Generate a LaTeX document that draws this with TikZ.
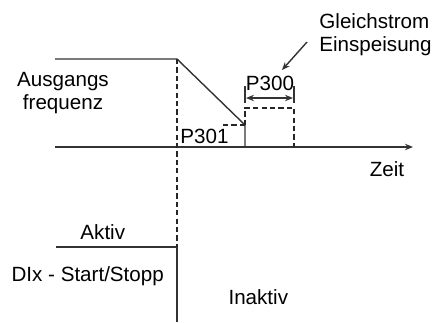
\documentclass[tikz,border=0pt]{standalone}
\usepackage{fontspec}
\setmainfont{Liberation Sans}
\usetikzlibrary{arrows.meta, positioning}

\begin{document}
\begin{tikzpicture}[x=0.5pt, y=-0.5pt, >={Stealth[length=4pt, width=3.2pt]},
    signal/.style={draw=black!80, line width=0.7pt},
    guide/.style={draw=black!85, line width=0.7pt, dash pattern=on 2.6pt off 1.6pt},
    lbl/.style={font=\fontsize{10.3}{11.6}\selectfont, inner sep=0pt, anchor=base}]
  \useasboundingbox (0,0) rectangle (433,322);

  % time axis and output frequency
  \coordinate (t0) at (55,147);
  \coordinate (tend) at (413,147);
  \coordinate (f0) at (55,59);
  \coordinate (fstop) at (177,59);
  \coordinate (fdc) at (245,125);
  \coordinate (fdcend) at (245,147);
  \coordinate (dcend) at (294,147);

  \draw[signal, ->] (t0) -- (tend);
  \draw[signal] (f0) -- (fstop) -- (fdc) -- (fdcend);

  % stop command
  \coordinate (di0) at (56,247);
  \coordinate (distop) at (177,247);
  \coordinate (diend) at (177,322);
  \draw[signal] (di0) -- (distop) -- (diend);
  \draw[guide] (fstop) -- (distop);

  % P301 frequency and P300 time of dc injection
  \draw[guide] (fdc) -- ++(-22,0);
  \draw[guide] (245,125) -- (245,108) -- (294,108) -- (dcend);
  \draw[signal] (245,86) -- (245,103);
  \draw[signal] (294,86) -- (294,103);
  \draw[signal, <->] (246,98) -- (293,98);

  \node[lbl] (p300) at (270,90) {P300};
  \node[lbl] (p301) at (204.5,143) {P301};
  \node[lbl, anchor=base west] (gleich) at (319,28) {Gleichstrom};
  \node[lbl, anchor=base west] (einsp) at (319,51.3) {Einspeisung};
  \coordinate (dctip) at (282,70);
  \draw[signal, ->] (307,42) -- (dctip);

  \node[lbl] (ausg) at (63,86) {Ausgangs};
  \node[lbl] (freq) at (63,109.5) {frequenz};
  \node[lbl] (zeit) at (387,176.7) {Zeit};
  \node[lbl] (aktiv) at (102.8,239) {Aktiv};
  \node[lbl] (dix) at (87.7,281.7) {DIx - Start/Stopp};
  \node[lbl] (inaktiv) at (258.3,304.3) {Inaktiv};
\end{tikzpicture}
\end{document}
